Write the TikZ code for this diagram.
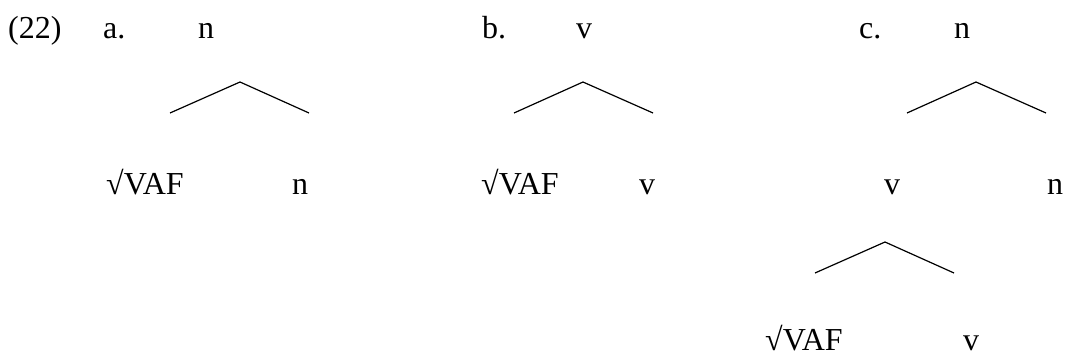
\documentclass[tikz,border=0pt]{standalone}
\usepackage{fontspec}
\setmainfont{Liberation Serif}
\begin{document}
\begin{tikzpicture}[x=1pt,y=-1pt,
  lab/.style={anchor=base,inner sep=0pt,text depth=0pt,font=\fontsize{32}{36}\selectfont},
  labw/.style={lab,anchor=base west},
  br/.style={line width=1.2pt,line cap=butt,line join=miter}]
\useasboundingbox (0,0) rectangle (1068,356);
% labels
\node[labw] (ex) at (8,38) {(22)};
\node[labw] (la) at (103,38) {a.};
\node[labw] (lb) at (482,38) {b.};
\node[labw] (lc) at (859,38) {c.};
% tree a
\node[lab] (an) at (206,38) {n};
\coordinate (aapex) at (240,82);
\coordinate (aL) at (170,113);
\coordinate (aR) at (309,113);
\draw[br] (aL) -- (aapex) -- (aR);
\node[labw] (aroot) at (106,194) {√VAF};
\node[lab] (an2) at (300,194) {n};
% tree b
\node[lab] (bv) at (584,38) {v};
\coordinate (bapex) at (583,82);
\coordinate (bL) at (514,113);
\coordinate (bR) at (653,113);
\draw[br] (bL) -- (bapex) -- (bR);
\node[labw] (broot) at (481,194) {√VAF};
\node[lab] (bv2) at (647,194) {v};
% tree c
\node[lab] (cn) at (962,38) {n};
\coordinate (capex) at (976,82);
\coordinate (cL) at (907,113);
\coordinate (cR) at (1046,113);
\draw[br] (cL) -- (capex) -- (cR);
\node[lab] (cv) at (892,194) {v};
\node[lab] (cn2) at (1055,194) {n};
\coordinate (dapex) at (885,242);
\coordinate (dL) at (815,273);
\coordinate (dR) at (954,273);
\draw[br] (dL) -- (dapex) -- (dR);
\node[labw] (croot) at (765,350) {√VAF};
\node[lab] (cv3) at (971,350) {v};
\end{tikzpicture}
\end{document}
